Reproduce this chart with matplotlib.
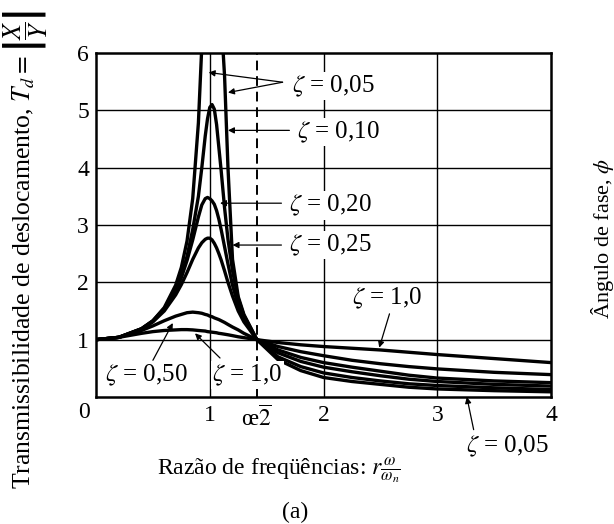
import matplotlib
matplotlib.use("Agg")
import matplotlib.pyplot as plt

plt.rcParams['font.family'] = ['Liberation Serif', 'DejaVu Serif']
plt.rcParams['mathtext.fontset'] = 'stix'

### Frequency ratio r = w / w_n (shared by all curves)
r_ratio = [0, 0.2, 0.4, 0.5, 0.6, 0.7, 0.75, 0.8, 0.85, 0.9, 0.93, 0.96,
           0.98, 1.0, 1.02, 1.04, 1.06, 1.08, 1.1, 1.13, 1.16, 1.2, 1.25,
           1.3, 1.414, 1.6, 1.8, 2.0, 2.25, 2.5, 2.75, 3.0, 3.5, 4.0]

### Displacement transmissibility T_d for each damping ratio
td_005 = [1.0, 1.04, 1.19, 1.33, 1.56, 1.95, 2.26, 2.72, 3.46, 4.78, 6.12,
          8.1, 9.5, 10.0, 9.6, 8.8, 7.9, 7.2, 6.6, 5.6, 4.0, 2.4, 1.75,
          1.44, 1.0, 0.65, 0.46, 0.34, 0.27, 0.22, 0.17, 0.14, 0.11, 0.09]
td_010 = [1.0, 1.04, 1.19, 1.33, 1.54, 1.87, 2.12, 2.45, 2.92, 3.5, 4.0,
          4.55, 4.85, 5.05, 5.1, 5.02, 4.75, 4.35, 3.95, 3.3, 2.75, 2.2,
          1.72, 1.42, 1.0, 0.70, 0.53, 0.42, 0.34, 0.28, 0.23, 0.20, 0.16,
          0.13]
td_020 = [1.0, 1.04, 1.19, 1.32, 1.53, 1.85, 2.08, 2.38, 2.74, 3.14, 3.35,
          3.46, 3.48, 3.46, 3.42, 3.36, 3.25, 3.1, 2.92, 2.62, 2.32, 1.95,
          1.6, 1.36, 1.0, 0.77, 0.62, 0.52, 0.44, 0.37, 0.31, 0.27, 0.22,
          0.19]
td_025 = [1.0, 1.04, 1.18, 1.31, 1.5, 1.78, 1.96, 2.17, 2.4, 2.6, 2.69,
          2.75, 2.77, 2.77, 2.74, 2.68, 2.6, 2.5, 2.39, 2.2, 2.0, 1.76, 1.5,
          1.31, 1.0, 0.82, 0.69, 0.6, 0.52, 0.45, 0.38, 0.33, 0.28, 0.25]
td_050 = [1.0, 1.04, 1.16, 1.24, 1.33, 1.41, 1.44, 1.47, 1.48, 1.47, 1.46,
          1.44, 1.43, 1.41, 1.40, 1.38, 1.365, 1.35, 1.33, 1.30, 1.265,
          1.22, 1.17, 1.11, 1.0, 0.88, 0.79, 0.72, 0.64, 0.58, 0.53, 0.49,
          0.43, 0.39]
td_100 = [1.0, 1.04, 1.11, 1.14, 1.16, 1.17, 1.175, 1.175, 1.17, 1.16,
          1.155, 1.15, 1.14, 1.135, 1.13, 1.125, 1.12, 1.11, 1.105, 1.095,
          1.085, 1.07, 1.05, 1.035, 1.0, 0.95, 0.91, 0.88, 0.85, 0.82, 0.78,
          0.74, 0.67, 0.60]

### Tick labels
x_ticks = [1, 1.414, 2, 3, 4]
x_ticklabels = ["1", r"œ$\overline{2}$", "2", "3", "4"]
y_ticks = [1, 2, 3, 4, 5, 6]

### Curve labels: text, text anchor (r, T_d), arrow tips
labels = [
    (r"$\zeta$ = 0,05", (1.72, 5.42), [(0.99, 5.66), (1.16, 5.31)]),
    (r"$\zeta$ = 0,10", (1.77, 4.62), [(1.16, 4.65)]),
    (r"$\zeta$ = 0,20", (1.70, 3.34), [(1.09, 3.38)]),
    (r"$\zeta$ = 0,25", (1.70, 2.65), [(1.20, 2.65)]),
    (r"$\zeta$ = 1,0", (2.25, 1.72), [(2.49, 0.86)]),
    (r"$\zeta$ = 0,50", (0.08, 0.38), [(0.675, 1.29)]),
    (r"$\zeta$ = 1,0", (1.02, 0.38), [(0.87, 1.11)]),
]
arrow_tails = [[(1.64, 5.49), (1.64, 5.49)], [(1.70, 4.65)], [(1.63, 3.38)],
               [(1.63, 2.65)], [(2.58, 1.45)], [(0.50, 0.64)], [(1.09, 0.68)]]


def plot_transmissibility():
    fig = plt.figure(figsize=(6.14, 5.24), dpi=100)
    ax = fig.add_axes([0.1564, 0.2424, 0.7410, 0.6565])

    for td in (td_005, td_010, td_020, td_025, td_050, td_100):
        ax.plot(r_ratio, td, color="black", lw=2.4, solid_capstyle="round",
                zorder=3)

    ax.set_xlim(0, 4)
    ax.set_ylim(0, 6)

    # grid lines and the dashed r = sqrt(2) line
    for xv in (1, 2, 3):
        ax.axvline(xv, color="black", lw=1.0, zorder=1)
    for yv in (1, 2, 3, 4, 5):
        ax.axhline(yv, color="black", lw=1.0, zorder=1)
    ax.axvline(1.414, color="black", lw=1.4, ls=(0, (5, 3)), zorder=1)

    ax.set_xticks(x_ticks)
    ax.set_xticklabels(x_ticklabels)
    ax.set_yticks(y_ticks)
    ax.tick_params(length=0, labelsize=17)
    ax.tick_params(axis="x", pad=6)
    ax.tick_params(axis="y", pad=5)
    for sp in ax.spines.values():
        sp.set_linewidth(1.8)

    # corner "0" shared by both axes
    ax.annotate("0", (0, 0), xytext=(-9, -11.5), textcoords="offset points",
                ha="center", va="center", fontsize=17, annotation_clip=False)

    for (txt, pos, tips), tails in zip(labels, arrow_tails):
        ax.text(pos[0], pos[1], txt, fontsize=18, ha="left", va="center",
                zorder=5, bbox=dict(facecolor="white", edgecolor="none",
                                    pad=1.0))
        for tip, tail in zip(tips, tails):
            ax.annotate("", xy=tip, xytext=tail, zorder=6,
                        arrowprops=dict(arrowstyle="-|>", color="black",
                                        lw=0.9, mutation_scale=9,
                                        shrinkA=0, shrinkB=0))

    # label below the axes with its pointer
    ax.text(3.25, -0.87, r"$\zeta$ = 0,05", fontsize=18, ha="left",
            va="center", clip_on=False)
    ax.annotate("", xy=(3.26, 0.0), xytext=(3.32, -0.57),
                annotation_clip=False,
                arrowprops=dict(arrowstyle="-|>", color="black", lw=0.9,
                                mutation_scale=9, shrinkA=0, shrinkB=0))

    fig.text(279 / 614, 1 - 470 / 524,
             r"Razão de freqüências: $r\frac{\omega}{\omega_n}$",
             fontsize=17, ha="center", va="center")
    fig.text(295 / 614, 1 - 512 / 524, "(a)", fontsize=17, ha="center",
             va="center")
    fig.text(2 / 614, 1 - 249 / 524,
             r"Transmissibilidade de deslocamento, $T_d = \left|\dfrac{X}{Y}\right|$",
             fontsize=18.5, rotation=90, ha="left", va="center")
    fig.text(602 / 614, 1 - 238 / 524, r"Ângulo de fase, $\phi$",
             fontsize=16, rotation=90, ha="center", va="center")

    fig.savefig("out.png", dpi=100)


if __name__ == "__main__":
    plot_transmissibility()
